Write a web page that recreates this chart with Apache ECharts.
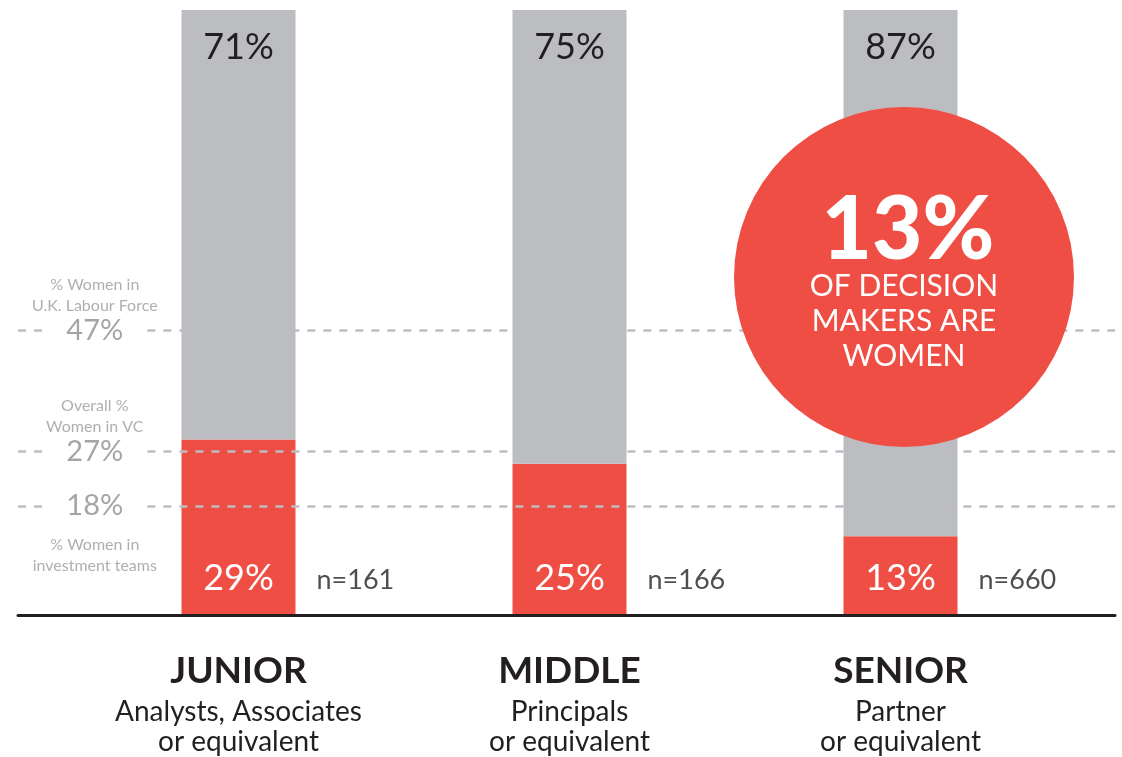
<!DOCTYPE html>
<html>
<head>
<meta charset="utf-8">
<style>
  html, body { margin: 0; padding: 0; background: #fff; }
  #chart { width: 1122px; height: 757px; }
</style>
<script src="https://cdn.jsdelivr.net/npm/echarts@6/dist/echarts.min.js"></script>
</head>
<body>
<div id="chart"></div>
<script>
// levels in the VC firms
const levels = ['JUNIOR', 'MIDDLE', 'SENIOR']
const levelNotes = ['Analysts, Associates\nor equivalent', 'Principals\nor equivalent', 'Partner\nor equivalent']
const womenPct = [29, 25, 13]
const menPct = [71, 75, 87]
const sampleN = [161, 166, 660]

// reference lines on the left
const refValues = [47, 27, 18]
const refNotes = ['% Women in\nU.K. Labour Force', 'Overall %\nWomen in VC', '% Women in\ninvestment teams']

const RED = '#ef4e45'
const GREY = '#bcbdc0'
const DARK = '#231f20'
const FONT = 'Lato'

const chart = echarts.init(document.getElementById('chart'))

// dashed line pieces, leaving a gap for the big numbers
const refLines = []
refValues.forEach((v) => {
  refLines.push([{ coord: [0, v] }, { coord: [2.4, v] }])
  refLines.push([{ coord: [11.8, v] }, { coord: [100, v] }])
})

const option = {
  animation: false,
  textStyle: { fontFamily: FONT },
  grid: [
    { left: 73, right: 56, top: 10, bottom: 142 },
    { left: 18, right: 7, top: 10, bottom: 142 },
  ],
  xAxis: [
    {
      type: 'category',
      gridIndex: 0,
      data: levels,
      axisLine: { show: false },
      axisTick: { show: false },
      axisLabel: {
        margin: 30,
        formatter: (val, i) => {
          const notes = levelNotes[i].split('\n').map((s) => `{b|${s}}`).join('\n')
          return `{a|${val}}\n${notes}`
        },
        rich: {
          a: { fontFamily: FONT, fontSize: 37, fontWeight: 'bold', color: DARK, lineHeight: 52, align: 'center' },
          b: { fontFamily: FONT, fontSize: 28, color: DARK, lineHeight: 30, align: 'center' },
        },
      },
    },
    {
      type: 'value',
      gridIndex: 1,
      min: 0,
      max: 100,
      z: 10,
      axisLine: { show: true, lineStyle: { color: DARK, width: 3 } },
      axisTick: { show: false },
      axisLabel: { show: false },
      splitLine: { show: false },
    },
  ],
  yAxis: [
    { type: 'value', gridIndex: 0, min: 0, max: 100, show: false },
    { type: 'value', gridIndex: 1, min: 0, max: 100, show: false },
  ],
  series: [
    {
      type: 'line',
      xAxisIndex: 1,
      yAxisIndex: 1,
      data: [],
      z: 1,
      silent: true,
      markLine: {
        symbol: 'none',
        silent: true,
        label: { show: false },
        lineStyle: { color: GREY, width: 2.5, type: [8, 8] },
        data: refLines,
      },
    },
    {
      type: 'scatter',
      xAxisIndex: 1,
      yAxisIndex: 1,
      symbolSize: 0,
      data: refValues.map((v) => [7, v]),
      label: {
        show: true,
        position: 'inside',
        formatter: (p) => p.value[1] + '%',
        fontFamily: FONT,
        fontSize: 29,
        color: '#8d8e90',
      },
    },
    {
      type: 'scatter',
      xAxisIndex: 1,
      yAxisIndex: 1,
      symbolSize: 0,
      data: refValues.map((v, i) => ({
        value: [7, v],
        label: i < 2 ? { position: 'top', distance: 14 } : { position: 'bottom', distance: 28 },
      })),
      label: {
        show: true,
        formatter: (p) => refNotes[p.dataIndex],
        fontFamily: FONT,
        fontSize: 16,
        lineHeight: 21,
        color: '#9a9b9d',
        align: 'center',
      },
    },
    {
      name: 'Women',
      type: 'bar',
      stack: 'total',
      barWidth: 114,
      z: 2,
      data: womenPct,
      itemStyle: { color: RED },
      label: {
        show: true,
        position: 'insideBottom',
        distance: 19,
        formatter: '{c}%',
        fontFamily: FONT,
        fontSize: 36,
        lineHeight: 36,
        color: '#fff',
      },
    },
    {
      name: 'Men',
      type: 'bar',
      stack: 'total',
      barWidth: 114,
      z: 2,
      data: menPct,
      itemStyle: { color: GREY },
      label: {
        show: true,
        position: 'insideTop',
        distance: 19,
        formatter: '{c}%',
        fontFamily: FONT,
        fontSize: 36,
        lineHeight: 36,
        color: DARK,
      },
    },
    {
      type: 'scatter',
      symbolSize: 0,
      z: 3,
      data: sampleN.map((n, i) => [i, 0]),
      label: {
        show: true,
        position: 'right',
        distance: 78,
        offset: [0, -35],
        formatter: (p) => 'n=' + sampleN[p.dataIndex],
        fontFamily: FONT,
        fontSize: 27,
        color: DARK,
      },
    },
  ],
  graphic: [
    { type: 'circle', z: 100, shape: { cx: 904, cy: 277, r: 170 }, style: { fill: RED } },
    {
      type: 'text',
      z: 101,
      x: 908,
      y: 231,
      style: {
        text: womenPct[2] + '%',
        fontFamily: FONT,
        fontSize: 87,
        fontWeight: 900,
        fill: '#fff',
        align: 'center',
        verticalAlign: 'middle',
      },
    },
    {
      type: 'text',
      z: 101,
      x: 904,
      y: 321,
      style: {
        text: 'OF DECISION\nMAKERS ARE\nWOMEN',
        fontFamily: FONT,
        fontSize: 30,
        lineHeight: 35,
        fill: '#fff',
        align: 'center',
        verticalAlign: 'middle',
      },
    },
  ],
}

chart.setOption(option)
</script>
</body>
</html>
